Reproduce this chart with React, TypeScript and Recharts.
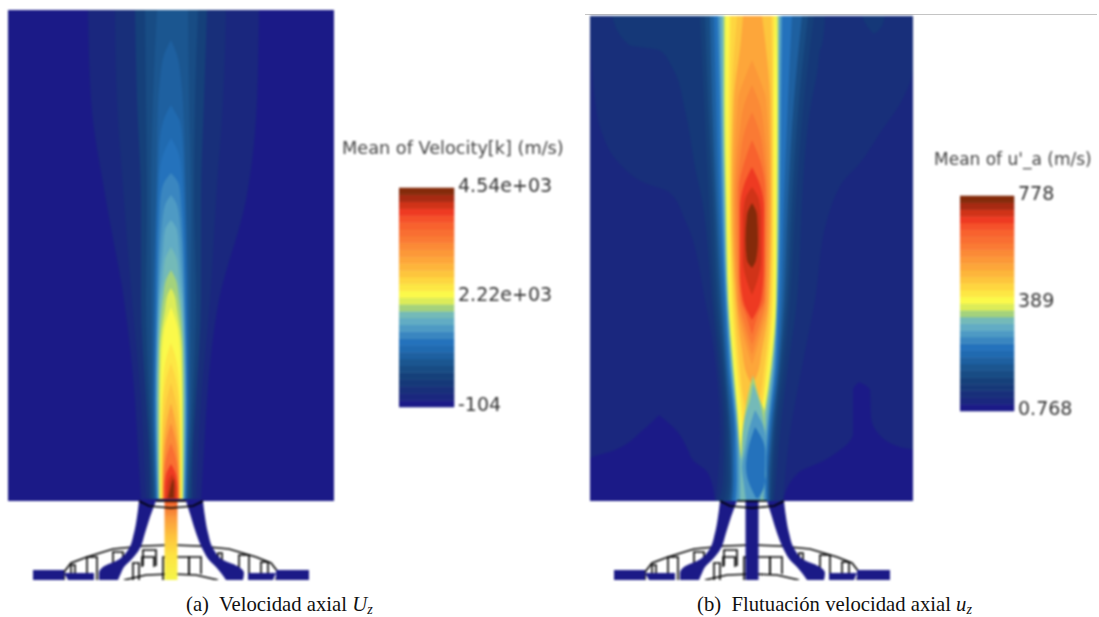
import React from "react";
import { Area, Bar, BarChart, ComposedChart, Scatter, XAxis, YAxis } from "recharts";

type Row = [number, number, number]; // z, left edge, right edge
type Pt = [number, number]; // r, z

// colour scale of the legends, bottom to top
const colormap = [
  "#1b1a87", "#1a277e", "#182f7a", "#153878", "#15407a", "#184c84", "#1b5690", "#1e60a0",
  "#206ab0", "#2472bc", "#3a86c0", "#4e9ac4", "#62acc4", "#74bab8", "#a4d27c", "#dcec58",
  "#fbf94a", "#fde744", "#fed640", "#fdc53d", "#fdb53b", "#fda63a", "#fc9838", "#fb8a36",
  "#fa7a34", "#f96e32", "#f8622e", "#f5512a", "#ee3a22", "#d03318", "#a82a12", "#842a0a",
];

const axialLegendTicks = ["-104", "2.22e+03", "4.54e+03"];
const flucLegendTicks = ["0.768", "389", "778"];
const legendTickPositions = [0, 16, 32];

// panel (a): mean axial velocity, contour outlines
const aField: Row[] = [[490, -163, 163], [-1, -163, 163]];
const aC1: Row[] = [[490, -83, 88], [400, -80, 86], [300, -65, 75], [200, -47, 48], [100, -36, 36], [50, -33, 33], [1, -30, 30]];
const aC2: Row[] = [[490, -56, 55], [400, -54, 52], [300, -47, 45], [200, -39, 39], [100, -30, 30], [50, -27, 27], [1, -25, 25]];
const aC4: Row[] = [[490, -36, 36], [400, -34, 33], [300, -30, 30], [200, -30, 30], [100, -25, 25], [50, -22, 22], [1, -21, 21]];
const aC5: Row[] = [[490, -26, 27], [400, -25, 24], [300, -24, 23], [200, -25, 25], [100, -22, 22], [50, -20, 20], [1, -18, 18]];
const aC6: Row[] = [[490, -14, 17], [400, -18, 18], [300, -20, 20], [200, -20, 20], [100, -19.5, 19.5], [50, -18, 18], [1, -16.5, 16.5]];
const aC7: Row[] = [[460, 0, 0], [445, -7, 6], [420, -11, 10], [395, -13, 12], [300, -15, 15], [200, -17.5, 17.5], [100, -18, 18], [50, -17, 17], [1, -15.5, 15.5]];
const aC8: Row[] = [[395, 0, 0], [388, -4, 4], [378, -8, 9], [350, -12, 12], [200, -16, 16], [100, -17, 17], [50, -16, 16], [1, -15, 15]];
const aC9: Row[] = [[362, 0, 0], [345, -8, 8], [320, -12, 11], [200, -15, 15], [100, -16, 16], [50, -15.5, 15.5], [1, -14.5, 14.5]];
const aC10: Row[] = [[327, 0, 0], [315, -8, 8], [295, -11, 10], [200, -14, 14], [100, -15.5, 15.5], [50, -15, 15], [1, -14, 14]];
const aC11: Row[] = [[305, 0, 0], [295, -6, 6], [275, -9, 9], [200, -13, 13], [100, -15, 15], [50, -14.5, 14.5], [1, -13.5, 13.5]];
const aC12: Row[] = [[280, 0, 0], [270, -6, 6], [250, -8, 8], [200, -12, 12], [100, -14.5, 14.5], [50, -14, 14], [1, -13, 13]];
const aC13: Row[] = [[253, 0, 0], [240, -6, 6], [220, -8, 8], [200, -11, 11], [150, -13, 13], [100, -14, 14], [50, -13.5, 13.5], [1, -12.5, 12.5]];
const aC14: Row[] = [[230, 0, 0], [220, -5, 5], [205, -7.5, 7.5], [150, -12, 12], [100, -12.5, 12.5], [50, -12.5, 12.5], [1, -12, 12]];
const aC15: Row[] = [[212, 0, 0], [205, -3.5, 3.5], [190, -6, 6], [150, -11, 11], [100, -11.7, 11.7], [50, -11.7, 11.7], [1, -11.5, 11.5]];
const aC16: Row[] = [[193, 0, 0], [185, -3, 3], [170, -7, 7], [130, -10, 10], [80, -11, 11], [30, -11, 11], [1, -11, 11]];
const aC17: Row[] = [[157, 0, 0], [145, -4, 4], [120, -8, 8], [50, -10, 10], [1, -10, 10]];
const aC18: Row[] = [[137, 0, 0], [120, -5, 5], [90, -8.5, 8.5], [40, -9.5, 9.5], [1, -9.5, 9.5]];
const aC19: Row[] = [[117, 0, 0], [100, -4.5, 4.5], [70, -8, 8], [30, -9, 9], [1, -9, 9]];
const aC21: Row[] = [[97, 0, 0], [80, -4, 4], [50, -7.5, 7.5], [20, -8.5, 8.5], [1, -8.5, 8.5]];
const aC23: Row[] = [[77, 0, 0], [60, -4.5, 4.5], [35, -7, 7], [1, -8, 8]];
const aC25: Row[] = [[57, 0, 0], [45, -4, 4], [25, -7, 7], [1, -7.5, 7.5]];
const aC28: Row[] = [[36, 0, 0], [25, -5, 5], [12, -6.5, 6.5], [1, -6.5, 6.5]];
const aC29: Row[] = [[26, 1, 1], [18, -3, 4.5], [8, -4, 5.5], [1, -5, 5]];
const aC31: Row[] = [[22, 2, 2], [15, 0, 3], [6, -2, 3], [2, -3, 3]];
const aContours: [number, Row[]][] = [
  [0, aField], [1, aC1], [2, aC2], [4, aC4], [5, aC5], [6, aC6], [7, aC7], [8, aC8], [9, aC9], [10, aC10],
  [11, aC11], [12, aC12], [13, aC13], [14, aC14], [15, aC15], [16, aC16], [17, aC17], [18, aC18], [19, aC19],
  [21, aC21], [23, aC23], [25, aC25], [28, aC28], [29, aC29], [31, aC31],
];

// panel (b): axial velocity fluctuation, contour outlines
const bField: Row[] = [[484, -162, 161], [-1, -162, 161]];
const bPocketLeft: Row[] = [[85, -93, -93], [70, -109, -76], [50, -137, -64], [41, -162, -60], [27, -162, -44], [-1, -162, -37]];
const bPocketRight: Row[] = [[118, 107, 107], [110, 101, 118], [83, 101, 119], [67, 101, 126], [53, 92, 148], [50, 88, 161], [40, 73, 161], [27, 46, 161], [-1, 31, 161]];
const bC2: Row[] = [[484, -162, 161], [433, -160, 161], [400, -157, 150], [367, -150, 128], [337, -133, 108], [317, -107, 90], [308, -83, 85], [280, -67, 75], [200, -47, 63], [133, -36, 50], [67, -32, 38], [-1, -36, 31]];
const bC3: Row[] = [[484, -140, 73], [455, -123, 70], [450, -93, 68], [433, -80, 66], [390, -67, 58], [333, -57, 52], [300, -50, 50], [200, -40, 45], [133, -33, 36], [67, -28, 28], [20, -29, 24], [-1, -33, 22]];
const bBumpRight: Row[] = [[484, 110, 133], [470, 118, 127], [466, 122, 122]];
const bC4: Row[] = [[484, -52, 62], [400, -48, 52], [300, -43, 44], [200, -37, 38], [133, -30, 32], [67, -25, 24], [20, -25, 21], [-1, -28, 20]];
const bC5: Row[] = [[484, -47, 56], [400, -44, 47], [300, -39, 40], [200, -34, 35], [133, -28, 29], [67, -23, 22], [20, -22, 19], [-1, -24, 18]];
const bC7: Row[] = [[484, -42, 50], [400, -40, 42], [300, -36, 36], [200, -31, 32], [133, -26, 27], [67, -21, 20], [20, -20, 17], [-1, -21, 17]];
const bC9: Row[] = [[484, -38, 40], [400, -36, 36], [300, -33, 32], [200, -28, 29], [133, -24, 25], [67, -18, 18], [20, -18, 15], [-1, -19, 15]];
const bC11: Row[] = [[484, -34, 30], [400, -32, 29], [300, -30, 28], [200, -26, 26], [133, -22, 23], [67, -16, 16], [20, -15, 13], [-1, -16, 14]];
const bC13: Row[] = [[484, -31, 28], [400, -30, 27], [300, -28, 27], [200, -25, 25], [133, -20.5, 21], [67, -14, 14], [20, -12, 10], [-1, -12, 10]];
const bC15: Row[] = [[484, -28, 26], [400, -28, 26], [300, -26.5, 25.5], [200, -24, 24.5], [133, -19, 19.5], [88, -15, 13], [60, -13, 8], [40, -11, -8]];
const bC16: Row[] = [[484, -26, 24], [400, -26, 25], [300, -25, 24.5], [200, -23, 23.5], [133, -18, 18], [88, -14, 12], [60, -12, 8], [47, -11, -8]];
const bC17: Row[] = [[484, -23, 23], [400, -24, 22], [300, -23, 22.5], [200, -21, 21.5], [133, -16, 16], [85, -11, 9], [60, -9.5, 3], [50, -9, -5]];
const bC18: Row[] = [[484, -21, 21], [400, -22, 21], [300, -22, 21], [200, -19, 20], [133, -14, 14], [85, -9, 8], [65, -8, -2]];
const bC19: Row[] = [[484, -15, 19], [400, -20, 20], [300, -21, 20], [200, -18, 18.5], [133, -12, 12], [100, -8, 7], [85, -4, 2]];
const bC21: Row[] = [[484, -9, 10], [460, -11, 13], [400, -18, 18], [300, -20, 19], [200, -16, 17], [150, -10, 10], [125, -5, 5], [115, 0, 0]];
const bC22: Row[] = [[440, 0, 0], [420, -8, 8], [400, -14, 14], [300, -18, 18], [200, -15, 16], [165, -9, 9], [135, 0, 0]];
const bC23: Row[] = [[415, 0, 0], [395, -8, 8], [370, -12, 12], [300, -17, 16], [200, -14, 14], [170, -8, 8], [145, 0, 0]];
const bC24: Row[] = [[388, 0, 0], [370, -7, 7], [340, -12, 12], [300, -15, 15], [200, -12.5, 13], [175, -7, 7], [155, 0, 0]];
const bC26: Row[] = [[360, 0, 0], [340, -7, 8], [310, -13, 13], [230, -13, 13], [200, -11, 12], [185, -6, 6], [165, 0, 0]];
const bC28: Row[] = [[333, 0, 0], [315, -8, 8], [290, -12, 12], [230, -12, 11.5], [200, -9, 9], [180, 0, 0]];
const bC29: Row[] = [[313, 0, 0], [300, -7, 7], [280, -9, 9], [240, -9, 9], [222, -6, 6], [205, 0, 0]];
const bC31: Row[] = [[297, 0, 0], [285, -5, 5], [260, -6.5, 6], [240, -5, 4], [232, 0, 0]];
// hollow spike at the base of the jet
const bS14: Row[] = [[125, 1, 1], [100, -5, 8], [87, -7, 12.7], [67, -10, 13], [47, -11, 12], [-1, -11, 11]];
const bS13: Row[] = [[117, 1, 1], [100, -2, 7], [83, -7, 11], [67, -9, 13], [47, -10, 14], [33, -12, 14], [-1, -12, 10]];
const bS11: Row[] = [[90, 3, 3], [67, -4, 13], [50, -7, 14], [33, -10, 14], [15, -8, 11], [-1, -6, 8]];
const bS9: Row[] = [[73, 3, 3], [50, -4, 13], [33, -6, 13], [20, -4, 13], [10, 0, 11], [2, 4, 6]];
const bContours: [number, Row[]][] = [
  [1, bField], [0, bPocketLeft], [0, bPocketRight], [2, bC2], [3, bC3], [3, bBumpRight], [4, bC4], [5, bC5],
  [7, bC7], [9, bC9], [11, bC11], [13, bC13], [15, bC15], [16, bC16], [17, bC17], [18, bC18], [19, bC19],
  [21, bC21], [22, bC22], [23, bC23], [24, bC24], [26, bC26], [28, bC28], [29, bC29], [31, bC31],
  [14, bS14], [13, bS13], [11, bS11], [9, bS9],
];

// burner geometry below the inlet plane, the same in both panels
const wallLeft: Row[] = [[-1, -32, -15], [-17, -34, -21], [-33, -37, -26], [-50, -43, -32], [-60, -53, -40], [-67, -68, -47], [-73, -72, -50], [-80, -72, -53]];
const wallRight: Row[] = [[-1, 15, 32], [-17, 20, 34], [-33, 25, 37], [-50, 32, 43], [-60, 38, 52], [-67, 45, 68], [-73, 50, 73], [-80, 55, 72]];
const plateFarLeft: Row[] = [[-70, -138, -107], [-80, -138, -107]];
const plateNearLeft: Row[] = [[-73, -107, -77], [-80, -103, -77]];
const plateNearRight: Row[] = [[-73, 77, 105], [-80, 77, 102]];
const plateFarRight: Row[] = [[-70, 105, 138], [-80, 105, 138]];
const nozzleParts = [wallLeft, wallRight, plateFarLeft, plateNearLeft, plateNearRight, plateFarRight];

const pipe: Row[] = [[0, -6.5, 6.5], [-80, -6.5, 6.5]];

const domeArc: Pt[] = [[-107, -80], [-107, -72], [-100, -63], [-84, -57], [-58, -49], [-28, -46], [0, -45], [28, -46], [58, -49], [85, -57], [100, -63], [107, -72], [105, -80]];
const baseArc: Pt[] = [[-47, -80], [-25, -75], [0, -74], [25, -75], [47, -80]];
const throatArc: Pt[] = [[-32, -1], [-22, -6], [0, -8], [22, -6], [32, -1]];
const throatLip: Pt[] = [[-15, -1], [15, -1]];
const hubLeft: Pt[] = [[-70, -72], [-62, -65], [-52, -63]];
const hubRight: Pt[] = [[70, -72], [62, -65], [52, -63]];
// vanes: left, right, top, bottom
const vanes: [number, number, number, number][] = [
  [-100, -96, -65, -80], [-84, -74, -57, -80], [-58, -48, -52, -65], [-28, -15, -50, -66], [-29, -17, -57, -67],
  [-38, -32, -63, -80], [-8, -2, -57, -80], [5, 18, -57, -74], [18, 30, -57, -74], [47, 51, -53, -67],
  [68, 78, -55, -80], [90, 97, -62, -80],
];

const outlines: Pt[][] = [
  domeArc, baseArc, hubLeft, hubRight,
  ...vanes.map(([l, r, t, b]): Pt[] => [[l, b], [l, t], [r, t], [r, b]]),
];
const throatLines: Pt[][] = [throatArc, throatLip];

const toRows = (rows: Row[]) => rows.map(([z, lo, hi]) => ({ z, band: [lo, hi] }));

const contourArea = (key: string, rows: Row[], fill: string) => (
  <Area
    key={key}
    data={toRows(rows)}
    dataKey="band"
    type="monotone"
    fill={fill}
    fillOpacity={1}
    stroke="none"
    dot={false}
    activeDot={false}
    isAnimationActive={false}
  />
);

const outlineSeries = (key: string, lines: Pt[][]) =>
  lines.map((pts, i) => (
    <Scatter
      key={`${key}${i}`}
      data={pts.map(([r, z]) => ({ r, z }))}
      line={{ stroke: "#000", strokeWidth: 1.6 }}
      shape={() => <g />}
      isAnimationActive={false}
    />
  ));

interface FieldProps {
  left: number;
  top: number;
  width: number;
  height: number;
  rDomain: [number, number];
  zTop: number;
  contours: [number, Row[]][];
  pipeFill: string;
  gradId: string;
  hasGradient?: boolean;
}

const Field = ({ left, top, width, height, rDomain, zTop, contours, pipeFill, gradId, hasGradient }: FieldProps) => {
  const axes = [
    <XAxis key="x" type="number" dataKey="r" domain={rDomain} hide allowDataOverflow />,
    <YAxis key="y" type="number" dataKey="z" domain={[-80, zTop]} reversed hide allowDataOverflow />,
  ];
  const margin = { top: 0, right: 0, bottom: 0, left: 0 };
  return (
    <div style={{ position: "absolute", left, top, width, height, filter: "blur(0.9px)" }}>
      {/* contour field and the vane outlines, the solid burner parts sit on top in a second chart */}
      <div style={{ position: "absolute", left: 0, top: 0 }}>
        <ComposedChart width={width} height={height} layout="vertical" margin={margin}>
          {axes}
          {contours.map(([band, rows], i) => contourArea(`c${i}`, rows, colormap[band]))}
          {outlineSeries("o", outlines)}
        </ComposedChart>
      </div>
      <div style={{ position: "absolute", left: 0, top: 0 }}>
        <ComposedChart width={width} height={height} layout="vertical" margin={margin}>
          <defs>
            <linearGradient id={gradId} x1="0" y1="0" x2="0" y2="1">
              <stop offset="0%" stopColor="#ee5a2a" />
              <stop offset="22%" stopColor="#fb9a3c" />
              <stop offset="45%" stopColor="#fdc23c" />
              <stop offset="70%" stopColor="#fde442" />
              <stop offset="100%" stopColor="#f5f548" />
            </linearGradient>
          </defs>
          {axes}
          {nozzleParts.map((rows, i) => contourArea(`n${i}`, rows, colormap[0]))}
          {contourArea("pipe", pipe, hasGradient ? `url(#${gradId})` : pipeFill)}
          {outlineSeries("t", throatLines)}
        </ComposedChart>
      </div>
    </div>
  );
};

interface LegendProps {
  left: number;
  top: number;
  barWidth: number;
  barHeight: number;
  labels: string[];
}

const legendRow = [Object.fromEntries(colormap.map((_, i) => [`b${i}`, 1]))];

const ColorLegend = ({ left, top, barWidth, barHeight, labels }: LegendProps) => (
  <div style={{ position: "absolute", left, top: top - 16, filter: "blur(0.8px)" }}>
    <BarChart
      width={barWidth + 110}
      height={barHeight + 32}
      data={legendRow}
      barCategoryGap={0}
      margin={{ top: 16, right: 0, bottom: 16, left: 0 }}
    >
      <XAxis hide />
      <YAxis
        orientation="right"
        type="number"
        width={110}
        domain={[0, 32]}
        ticks={legendTickPositions}
        interval={0}
        axisLine={false}
        tickLine={false}
        tickSize={0}
        tickMargin={4}
        tick={{ fontSize: 19, fill: "#333", fontFamily: "DejaVu Sans", dy: -3 }}
        tickFormatter={(v: number) => labels[legendTickPositions.indexOf(v)]}
      />
      {colormap.map((c, i) => (
        <Bar key={c} dataKey={`b${i}`} stackId="scale" fill={c} stroke={c} strokeWidth={0.6} isAnimationActive={false} />
      ))}
    </BarChart>
  </div>
);

const titleStyle: React.CSSProperties = {
  position: "absolute",
  fontFamily: "DejaVu Sans",
  color: "#444",
  whiteSpace: "nowrap",
  filter: "blur(0.8px)",
};

const captionStyle: React.CSSProperties = {
  position: "absolute",
  fontFamily: "Liberation Serif",
  fontSize: 20.7,
  lineHeight: "24px",
  color: "#111",
  whiteSpace: "pre",
};

const subStyle: React.CSSProperties = { fontSize: 14, position: "relative", top: 3, fontStyle: "italic" };

export default function App() {
  return (
    <div style={{ position: "absolute", left: 0, top: 0, width: 1099, height: 617, overflow: "hidden", background: "#fff" }}>
      <div style={{ position: "absolute", left: 585, top: 14, width: 512, height: 1, background: "#c4c4c4" }} />
      <Field left={8} top={10} width={326} height={570} rDomain={[-163, 163]} zTop={490} contours={aContours} pipeFill="" gradId="jetFill" hasGradient />
      <Field left={590} top={16} width={323} height={564} rDomain={[-162, 161]} zTop={484} contours={bContours} pipeFill={colormap[0]} gradId="jetFillB" />

      <div style={{ ...titleStyle, left: 342, top: 138, fontSize: 17.7 }}>Mean of Velocity[k] (m/s)</div>
      <ColorLegend left={399} top={188} barWidth={55} barHeight={219} labels={axialLegendTicks} />

      <div style={{ ...titleStyle, left: 934, top: 149, fontSize: 17 }}>Mean of u'_a (m/s)</div>
      <ColorLegend left={960} top={196} barWidth={54} barHeight={215} labels={flucLegendTicks} />

      <div style={{ ...captionStyle, left: 186, top: 592 }}>
        (a)  Velocidad axial <i>U</i><span style={subStyle}>z</span>
      </div>
      <div style={{ ...captionStyle, left: 697, top: 592 }}>
        (b)  Flutuación velocidad axial <i>u</i><span style={subStyle}>z</span>
      </div>
    </div>
  );
}
